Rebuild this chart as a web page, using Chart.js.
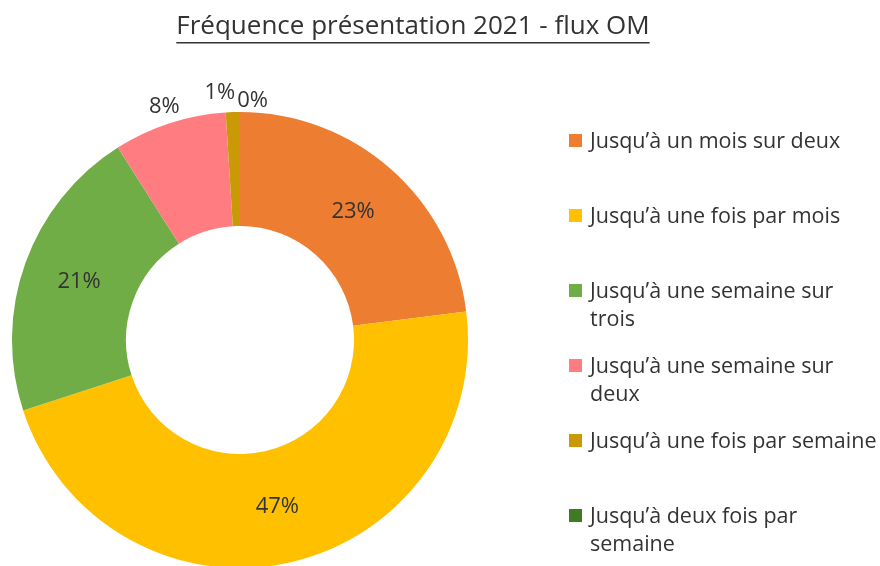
<!DOCTYPE html>
<html>
<head>
<meta charset="utf-8">
<script src="https://cdn.jsdelivr.net/npm/chart.js@4"></script>
<style>
  html, body { margin: 0; padding: 0; background: #ffffff; overflow: hidden; }
  #wrap { position: relative; width: 880px; height: 580px; }
  #legend { position: absolute; left: 0; top: 0; width: 880px; height: 566px; pointer-events: none;
            font-family: "Open Sans", sans-serif; font-size: 21.5px; color: #333333; }
  .item { position: absolute; left: 569px; line-height: 28px; }
  .box { position: absolute; left: 0; top: 8px; width: 13px; height: 13px; }
  .txt { position: absolute; left: 21px; top: 0; white-space: nowrap; }
</style>
</head>
<body>
<div id="wrap">
  <canvas id="donut"></canvas>
  <div id="legend"></div>
</div>
<script>
const chartTitle = 'Fréquence présentation 2021 - flux OM';
const categories = [
    ['Jusqu’à un mois sur deux'],
    ['Jusqu’à une fois par mois'],
    ['Jusqu’à une semaine sur', 'trois'],
    ['Jusqu’à une semaine sur', 'deux'],
    ['Jusqu’à une fois par semaine'],
    ['Jusqu’à deux fois par', 'semaine']
];
const percentages = [23, 47, 21, 8, 1, 0];
const sliceColors = ['#ED7D31', '#FFC000', '#70AD47', '#FF7C80', '#C99A06', '#3E7B27'];

// titre souligné, dessiné à la main
const titlePlugin = {
    id: 'titleUnderline',
    afterDraw(chart) {
        const ctx = chart.ctx;
        ctx.save();
        ctx.font = '26px "Open Sans", sans-serif';
        ctx.fillStyle = '#333333';
        ctx.textAlign = 'center';
        ctx.textBaseline = 'middle';
        const x = 413, y = 27;
        ctx.fillText(chartTitle, x, y);
        const w = ctx.measureText(chartTitle).width;
        ctx.fillRect(x - w / 2, y + 15, w, 1.5);
        ctx.restore();
    }
};

// étiquettes de pourcentage (dedans si assez grand, sinon dehors)
const labelPlugin = {
    id: 'pctLabels',
    afterDatasetsDraw(chart) {
        const ctx = chart.ctx;
        const meta = chart.getDatasetMeta(0);
        const values = chart.data.datasets[0].data;
        ctx.save();
        ctx.font = '22px "Open Sans", sans-serif';
        ctx.fillStyle = '#333333';
        ctx.textAlign = 'center';
        ctx.textBaseline = 'middle';
        const outside = [];
        meta.data.forEach(function(arc, i) {
            const txt = values[i] + '%';
            if (values[i] >= 10) {
                const p = arc.tooltipPosition();
                ctx.fillText(txt, p.x, p.y);
            } else {
                const mid = (arc.startAngle + arc.endAngle) / 2;
                const r = arc.outerRadius + 17;
                outside.push({ txt: txt, x: arc.x + Math.cos(mid) * r, y: arc.y + Math.sin(mid) * r });
            }
        });
        // écarter les étiquettes qui se chevauchent
        for (let i = 1; i < outside.length; i++) {
            const a = outside[i - 1], b = outside[i];
            const need = (ctx.measureText(a.txt).width + ctx.measureText(b.txt).width) / 2 + 2;
            const gap = b.x - a.x;
            if (gap < need && Math.abs(a.y - b.y) < 20) {
                const shift = (need - gap) / 2;
                a.x -= shift; b.x += shift;
                a.y -= 2; b.y += 6;
            }
        }
        outside.forEach(function(o) { ctx.fillText(o.txt, o.x, o.y); });
        ctx.restore();
    }
};

const ctx = document.getElementById('donut').getContext('2d');
const donut = new Chart(ctx, {
    type: 'doughnut',
    data: {
        labels: categories,
        datasets: [{
            data: percentages,
            backgroundColor: sliceColors,
            borderWidth: 0
        }]
    },
    options: {
        responsive: true,
        maintainAspectRatio: false,
        animation: false,
        cutout: '50%',
        layout: { padding: { left: 12, right: 412, top: 112, bottom: 12 } },
        plugins: {
            legend: { display: false },
            title: { display: false },
            tooltip: { enabled: false }
        }
    },
    plugins: [titlePlugin, labelPlugin]
});

// légende HTML à droite
const legendEl = document.getElementById('legend');
categories.forEach(function(lines, i) {
    const item = document.createElement('div');
    item.className = 'item';
    item.style.top = (126 + i * 75) + 'px';
    item.innerHTML = '<span class="box" style="background:' + sliceColors[i] + '"></span>' +
        '<span class="txt">' + lines.join('<br>') + '</span>';
    legendEl.appendChild(item);
});
</script>
</body>
</html>
